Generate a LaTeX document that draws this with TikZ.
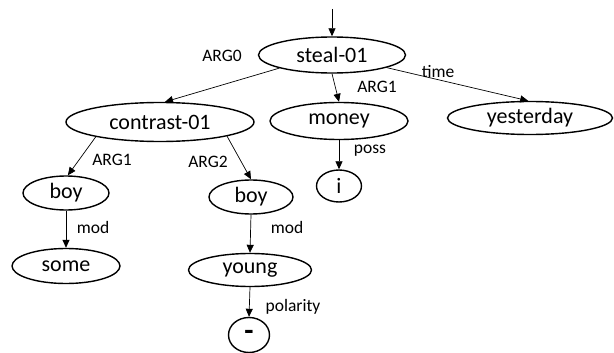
\documentclass[tikz,border=0pt]{standalone}
\usepackage{fontspec}
\setmainfont{Carlito}
\usetikzlibrary{shapes.geometric,arrows.meta}
\begin{document}
\begin{tikzpicture}[x=1pt,y=-1pt,
  concept/.style={ellipse,draw,line width=1.4pt,inner sep=0pt,font=\fontsize{22}{24}\selectfont},
  rel/.style={draw,line width=0.7pt,-{Triangle[length=8pt,width=7pt]}},
  lab/.style={font=\fontsize{17.5}{20}\selectfont,inner sep=0pt}]
\useasboundingbox (0,0) rectangle (614,353);

% concept nodes
\node[concept,minimum width=147pt,minimum height=36pt] (steal) at (332,55) {steal-01};
\node[concept,minimum width=188pt,minimum height=39pt] (contrast) at (160,122) {contrast-01};
\node[concept,minimum width=138pt,minimum height=37pt] (money) at (339,121) {money};
\node[concept,minimum width=165pt,minimum height=33pt] (yesterday) at (530,118) {yesterday};
\node[concept,minimum width=45pt,minimum height=32pt] (i) at (339,186) {i};
\node[concept,minimum width=86pt,minimum height=34pt] (boyA) at (66,193) {boy};
\node[concept,minimum width=108pt,minimum height=35pt] (some) at (66,266) {some};
\node[concept,minimum width=84pt,minimum height=34pt] (boyB) at (251,197) {boy};
\node[concept,minimum width=123pt,minimum height=33pt] (young) at (250,270) {young};
\node[concept,minimum width=41pt,minimum height=35pt,font=\fontsize{30}{30}\selectfont\bfseries] (minus) at (249,335) {-};

% root entry
\coordinate (root) at (332,9);
\draw[rel] (root) -- (steal.north);

% relations
\draw[rel] (steal.194) -- (contrast.76);
\draw[rel] (steal.south) -- (money.north);
\draw[rel] (steal.347) -- (yesterday.96);
\draw[rel] (money.south) -- (i.north);
\draw[rel] (contrast.193) -- (boyA.84);
\draw[rel] (contrast.348) -- (boyB.north);
\draw[rel] (boyA.south) -- (some.north);
\draw[rel] (boyB.south) -- (young.north);
\draw[rel] (young.south) -- (minus.north);

% relation labels
\node[lab] (l-arg0) at (222,56) {ARG0};
\node[lab] (l-arg1a) at (377,87) {ARG1};
\node[lab] (l-time) at (438,72) {time};
\node[lab] (l-poss) at (370,151) {poss};
\node[lab] (l-arg1b) at (112,160) {ARG1};
\node[lab] (l-arg2) at (208,162) {ARG2};
\node[lab] (l-modA) at (93,227) {mod};
\node[lab] (l-modB) at (287,227) {mod};
\node[lab] (l-pol) at (293,307) {polarity};
\end{tikzpicture}
\end{document}
